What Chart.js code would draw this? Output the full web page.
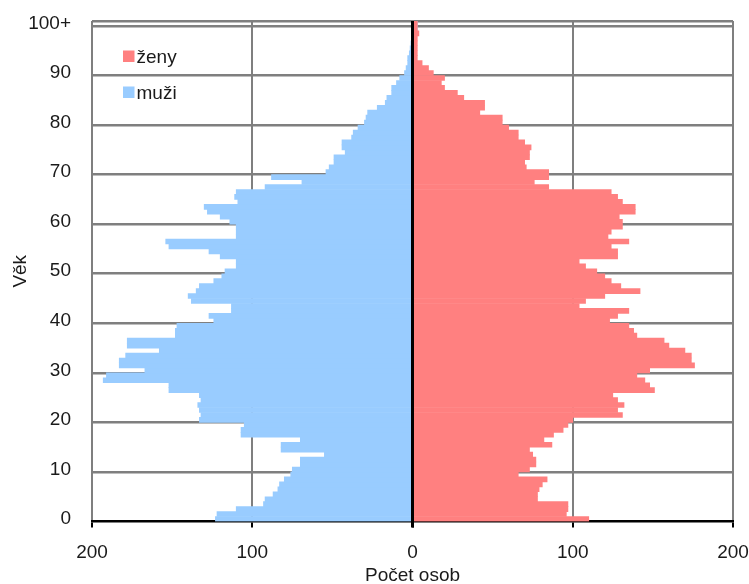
<!DOCTYPE html>
<html>
<head>
<meta charset="utf-8">
<script src="https://cdn.jsdelivr.net/npm/chart.js@4/dist/chart.umd.min.js"></script>
<style>
html,body{margin:0;padding:0;background:#fff;overflow:hidden;}
#wrap{width:749px;height:584px;overflow:hidden;position:relative;background:#fff;}
#c{position:absolute;left:0;top:0;}
</style>
</head>
<body>
<div id="wrap"><canvas id="c" width="749" height="590"></canvas></div>
<script>
// Age categories 0 .. 100+
const ageLabels = Array.from({length: 101}, (_, i) => (i === 100 ? '100+' : String(i)));
// Age labels shown on the vertical axis
const shownAgeTicks = ['0','10','20','30','40','50','60','70','80','90','100+'];

// Series: number of persons by age (0 .. 100+)
const seriesNames = ['ženy', 'muži'];
const men = [
  123,122,110,93,92,87,84,83,80,76,
  75,70,70,55,82,82,70,107,107,105,
  133,132,133,134,132,133,152,152,193,191,
  167,183,183,179,158,178,178,148,148,147,
  124,127,113,113,138,140,135,133,124,119,
  117,110,110,120,127,152,154,110,110,110,
  114,120,128,130,109,111,110,92,69,88,
  54,52,49,49,42,44,44,38,37,34,
  30,29,28,22,17,16,13,13,10,8,
  5,4,3,3,2,1.5,1,0.5,0.5,0,
  0
];
const women = [
  110,96,97,97,78,78,79,81,84,66,
  73,77,77,75,73,87,82,88,94,97,
  100,131,128,132,128,125,151,148,145,140,
  148,176,174,174,170,160,157,140,138,135,
  123,128,135,104,108,120,142,130,124,120,
  115,108,104,128,128,124,135,122,124,131,
  131,129,139,139,131,128,124,85,76,85,
  85,71,70,73,73,74,70,66,66,60,
  56,56,42,45,45,32,28,20,18,20,
  13,10,6,3,3,3,3,3,4,3,
  3
];
// Horizontal axis tick values (shown as absolute counts)
const xTickValues = [-200, -100, 0, 100, 200];

const FONT = 'Liberation Sans, Arial, sans-serif';
const TXT = '#1a1a1a';
const GRID = '#7f7f7f';
const colors = {women: '#FF8080', men: '#99CCFF'};

const centerLine = {
  id: 'centerLine',
  afterDatasetsDraw(chart) {
    const {ctx, chartArea, scales} = chart;
    const x = scales.x.getPixelForValue(0);
    ctx.save();
    ctx.strokeStyle = '#000';
    ctx.lineWidth = 3;
    ctx.beginPath();
    ctx.moveTo(x, chartArea.top);
    ctx.lineTo(x, chartArea.bottom + 6);
    ctx.stroke();
    ctx.restore();
  }
};

const innerLegend = {
  id: 'innerLegend',
  afterDraw(chart) {
    const {ctx, chartArea} = chart;
    ctx.save();
    ctx.font = '19px ' + FONT;
    ctx.textBaseline = 'alphabetic';
    ctx.textAlign = 'left';
    chart.data.datasets.forEach((ds, i) => {
      const x0 = chartArea.left + 31;
      const base = chartArea.top + 42 + i * 36;
      ctx.fillStyle = ds.backgroundColor;
      ctx.fillRect(x0, base - 12.5, 11.5, 11.5);
      ctx.fillStyle = TXT;
      ctx.fillText(ds.label, x0 + 13.5, base);
    });
    ctx.restore();
  }
};

new Chart(document.getElementById('c'), {
  type: 'bar',
  data: {
    labels: ageLabels,
    datasets: [
      {label: seriesNames[0], data: women, backgroundColor: colors.women},
      {label: seriesNames[1], data: men.map(v => -v), backgroundColor: colors.men}
    ]
  },
  options: {
    indexAxis: 'y',
    responsive: false,
    animation: false,
    devicePixelRatio: 1,
    datasets: {bar: {barPercentage: 1, categoryPercentage: 1, borderWidth: 0}},
    layout: {padding: {top: 21, right: 16, left: 0, bottom: 0}},
    plugins: {legend: {display: false}, tooltip: {enabled: false}},
    scales: {
      x: {
        type: 'linear', min: -200, max: 200, stacked: true,
        afterBuildTicks: s => { s.ticks = xTickValues.map(v => ({value: v})); },
        afterFit: s => { s.height = 68.5; s.paddingLeft = 0; s.paddingRight = 0; },
        ticks: {callback: v => String(Math.abs(v)), color: TXT, font: {family: FONT, size: 19}, padding: 14},
        grid: {
          color: c => (c.tick && c.tick.value === 0) ? 'rgba(0,0,0,0)' : GRID,
          lineWidth: 2, tickColor: '#000', tickLength: 6, tickWidth: 2
        },
        border: {display: true, color: '#000', width: 2.5},
        title: {display: true, text: 'Počet osob', color: TXT, font: {family: FONT, size: 19}, padding: {top: 0, bottom: 3}}
      },
      y: {
        type: 'category', reverse: true, stacked: true, offset: true,
        afterFit: s => { s.width = 92; s.paddingTop = 0; s.paddingBottom = 0; },
        ticks: {
          autoSkip: false, color: TXT, font: {family: FONT, size: 19}, padding: 21,
          callback: function (v) { const l = this.getLabelForValue(v); return shownAgeTicks.includes(l) ? l : ''; }
        },
        grid: {
          offset: true, drawTicks: false, lineWidth: 2.5,
          color: c => {
            if (c.index === undefined) return GRID;
            if (c.index === 0) return 'rgba(0,0,0,0)';
            return c.index % 10 === 0 ? GRID : 'rgba(0,0,0,0)';
          }
        },
        border: {display: false},
        title: {display: true, text: 'Věk', color: TXT, font: {family: FONT, size: 19}, padding: {top: 9, bottom: 0}}
      }
    }
  },
  plugins: [centerLine, innerLegend]
});
</script>
</body>
</html>
